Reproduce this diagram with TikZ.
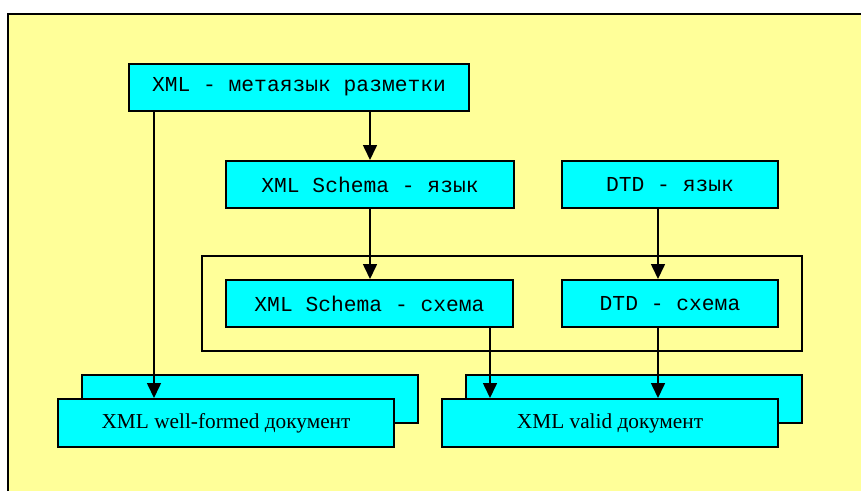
\documentclass[tikz,border=0pt]{standalone}
\usepackage{fontspec}
\setmainfont{Liberation Serif}
\setmonofont{Liberation Mono}
\usetikzlibrary{arrows.meta}
\definecolor{pale}{HTML}{FFFF99}
\definecolor{aqua}{HTML}{00FFFF}
\begin{document}
\begin{tikzpicture}[x=1pt,y=-1pt,
  box/.style={draw=black, line width=2pt, fill=aqua, inner sep=0pt,
    minimum height=47pt, font=\ttfamily\fontsize{21.3}{24}\selectfont},
  doc/.style={draw=black, line width=2pt, fill=aqua, inner sep=0pt,
    minimum width=336pt, minimum height=48pt, font=\fontsize{21.3}{24}\selectfont},
  grp/.style={draw=black, line width=1.5pt, inner sep=0pt},
  arr/.style={line width=1.6pt, -{Triangle[length=15pt,width=14pt]}}]
\useasboundingbox (0,0) rectangle (861,491);
% background sheet
\fill[pale] (8,14) rectangle (861,491);
\draw[line width=2pt] (8,491) -- (8,14) -- (861,14);

% languages
\node[box, minimum width=340pt] (meta) at (299,87) {XML - метаязык разметки};
\node[box, minimum width=288pt] (xsdlang) at (370,184.5) {XML Schema - язык};
\node[box, minimum width=216pt] (dtdlang) at (670,184.5) {DTD - язык};

% schemas and their frame
\node[grp, minimum width=600pt, minimum height=95pt] (frame) at (502,303.5) {};
\node[box, minimum width=287pt] (xsd) at (369.5,303.5) {XML Schema - схема};
\node[box, minimum width=216pt] (dtd) at (670,303.5) {DTD - схема};

% document stacks
\node[doc] (wfback) at (250,399) {};
\node[doc] (wf) at (226,423) {XML well-formed документ};
\node[doc] (vback) at (634,399) {};
\node[doc] (valid) at (610,423) {XML valid документ};

% arrow columns
\coordinate (cA) at (154,0);
\coordinate (cB) at (370,0);
\coordinate (cC) at (490,0);
\coordinate (cD) at (658,0);

\draw[arr] (meta.south -| cA) -- (wf.north -| cA);
\draw[arr] (meta.south -| cB) -- (xsdlang.north -| cB);
\draw[arr] (xsdlang.south -| cB) -- (xsd.north -| cB);
\draw[arr] (dtdlang.south -| cD) -- (dtd.north -| cD);
\draw[arr] (xsd.south -| cC) -- (valid.north -| cC);
\draw[arr] (dtd.south -| cD) -- (valid.north -| cD);
\end{tikzpicture}
\end{document}
